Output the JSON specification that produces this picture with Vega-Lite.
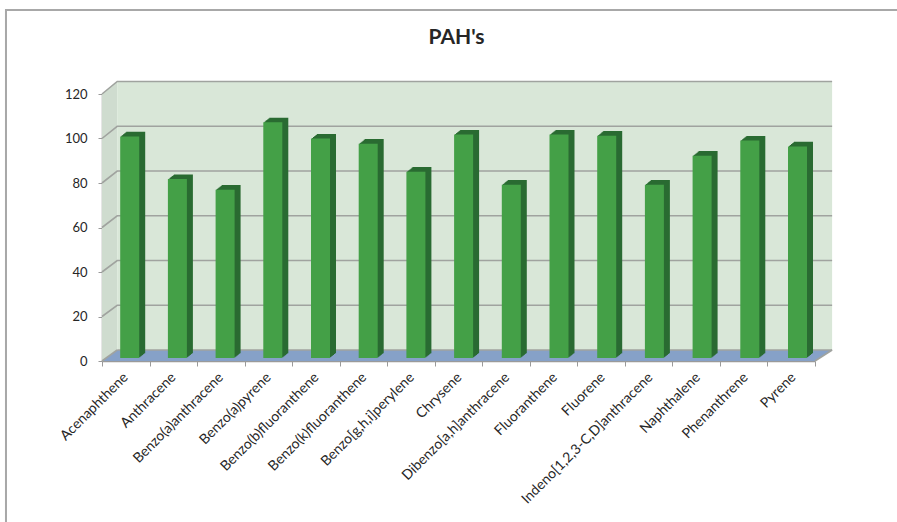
{
"$schema":"https://vega.github.io/schema/vega-lite/v6.json",
"width":713,"height":267,
"autosize":{"type":"none"},
"padding":{"left":102,"top":94,"right":82,"bottom":161},
"background":"#ffffff",
"title":{"text":"PAH's","font":"Lato","fontSize":21,"fontWeight":"bold","color":"#262626","anchor":"middle","dx":-2,"offset":-42},
"datasets":{
"bars":[
{"compound":"Acenaphthene","value":99.6},
{"compound":"Anthracene","value":80.4},
{"compound":"Benzo(a)anthracene","value":75.6},
{"compound":"Benzo(a)pyrene","value":105.9},
{"compound":"Benzo(b)fluoranthene","value":98.6},
{"compound":"Benzo(k)fluoranthene","value":96.3},
{"compound":"Benzo[g,h,i]perylene","value":83.7},
{"compound":"Chrysene","value":100.4},
{"compound":"Dibenzo[a,h]anthracene","value":77.9},
{"compound":"Fluoranthene","value":100.4},
{"compound":"Fluorene","value":99.9},
{"compound":"Indeno[1,2,3-C,D]anthracene","value":77.9},
{"compound":"Naphthalene","value":90.9},
{"compound":"Phenanthrene","value":97.7},
{"compound":"Pyrene","value":95.1}
],
"walls":[
{"part":"side","x":0,"lo":0,"hi":120},
{"part":"side","x":0.32,"lo":4.94,"hi":125.62},
{"part":"back","x":0.32,"lo":4.94,"hi":125.62},
{"part":"back","x":15.36,"lo":4.94,"hi":125.62},
{"part":"floor","x":0,"lo":0,"hi":0},
{"part":"floor","x":0.32,"lo":0,"hi":4.94},
{"part":"floor","x":15,"lo":0,"hi":4.94},
{"part":"floor","x":15.36,"lo":4.94,"hi":4.94}
],
"lines":[
{"g":"g0","x":0.32,"y":4.94},{"g":"g0","x":15.36,"y":4.94},
{"g":"g20","x":0,"y":20},{"g":"g20","x":0.32,"y":25.06},{"g":"g20","x":15.36,"y":25.06},
{"g":"g40","x":0,"y":40},{"g":"g40","x":0.32,"y":45.17},{"g":"g40","x":15.36,"y":45.17},
{"g":"g60","x":0,"y":60},{"g":"g60","x":0.32,"y":65.28},{"g":"g60","x":15.36,"y":65.28},
{"g":"g80","x":0,"y":80},{"g":"g80","x":0.32,"y":85.39},{"g":"g80","x":15.36,"y":85.39},
{"g":"g100","x":0,"y":100},{"g":"g100","x":0.32,"y":105.5},{"g":"g100","x":15.36,"y":105.5},
{"g":"g120","x":0,"y":120},{"g":"g120","x":0.32,"y":125.62},{"g":"g120","x":15.36,"y":125.62},
{"g":"g0b","x":0,"y":0},{"g":"g0b","x":0.32,"y":4.94},
{"g":"g0c","x":15,"y":0},{"g":"g0c","x":15.36,"y":4.94}
],
"border":[
{"g":"a","x":-2.02,"y":-72.4},{"g":"a","x":-2.02,"y":157.8},{"g":"a","x":16.73,"y":157.8}
]
},
"layer":[
{
"encoding":{
"x":{"field":"x","type":"quantitative","scale":{"domain":[0,15],"nice":false,"zero":false},
"axis":{"title":null,"orient":"bottom","values":[0,1,2,3,4,5,6,7,8,9,10,11,12,13,14,15],"labels":false,"grid":false,"domainColor":"#9a9a9a","domainWidth":1.5,"tickColor":"#9a9a9a","tickSize":5}}
},
"layer":[
{"data":{"name":"walls"},
"mark":{"type":"area","opacity":1,"line":false},
"encoding":{
"y":{"field":"lo","type":"quantitative","stack":null,"scale":{"domain":[0,120],"nice":false},
"axis":{"title":null,"values":[0,20,40,60,80,100,120],"grid":false,"domainColor":"#9a9a9a","domainWidth":1.5,"tickColor":"#9a9a9a","tickSize":4,"labelFont":"Lato","labelFontSize":13,"labelColor":"#262626","labelPadding":11}},
"y2":{"field":"hi"},
"color":{"field":"part","type":"nominal","legend":null,"scale":{"domain":["side","back","floor"],"range":["#cfdccf","#d9e7d8","#86a1c8"]}}
}},
{"data":{"name":"lines"},
"mark":{"type":"line","color":"#a0a39f","strokeWidth":1.6},
"encoding":{
"y":{"field":"y","type":"quantitative"},
"detail":{"field":"g"}
}},
{"data":{"name":"border"},
"mark":{"type":"line","color":"#a8a8a8","strokeWidth":2},
"encoding":{
"y":{"field":"y","type":"quantitative"},
"order":{"field":"y","sort":"ascending"},
"detail":{"field":"g"}
}}
]},
{"data":{"name":"bars"},
"encoding":{
"x":{"field":"compound","type":"nominal","sort":null,"scale":{"padding":0,"range":[0,715.5]},
"axis":{"title":null,"orient":"bottom","labelAngle":-45,"labelAlign":"right","labelBaseline":"middle","labelFont":"Lato","labelFontSize":14,"labelColor":"#262626","labelPadding":14,"labelDx":-3,"domain":false,"ticks":false,"labelOverlap":false,"labelLimit":300}},
"y":{"field":"value","type":"quantitative","scale":{"domain":[0,120],"nice":false}}
},
"layer":[
{"mark":{"type":"bar","size":19,"color":"#2a6b32","xOffset":9.85,"yOffset":-7.7,"y2Offset":-7.7}},
{"mark":{"type":"bar","size":19,"color":"#2a6b32","xOffset":8.85,"yOffset":-6.9,"y2Offset":-6.9}},
{"mark":{"type":"bar","size":19,"color":"#2a6b32","xOffset":7.85,"yOffset":-6.1,"y2Offset":-6.1}},
{"mark":{"type":"bar","size":19,"color":"#2a6b32","xOffset":6.85,"yOffset":-5.3,"y2Offset":-5.3}},
{"mark":{"type":"bar","size":19,"color":"#2a6b32","xOffset":5.85,"yOffset":-4.5,"y2Offset":-4.5}},
{"mark":{"type":"bar","size":19,"color":"#2a6b32","xOffset":4.85,"yOffset":-3.7,"y2Offset":-3.7}},
{"mark":{"type":"bar","size":19,"color":"#44a047","xOffset":3.85,"yOffset":-3,"y2Offset":-3}}
]
}
],
"resolve":{"scale":{"x":"independent"}},
"config":{"view":{"stroke":null}}
}
